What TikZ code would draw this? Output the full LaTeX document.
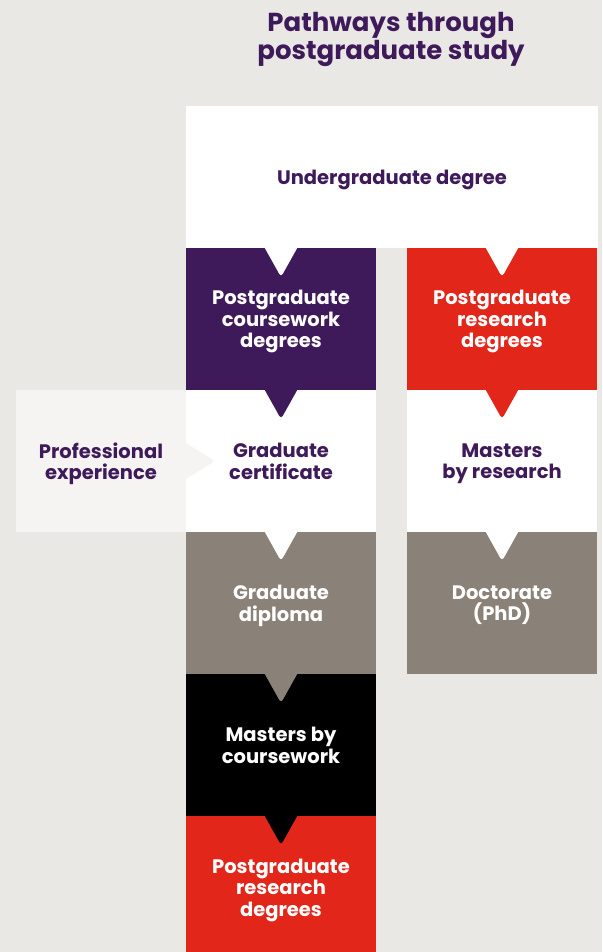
\documentclass[tikz,border=0pt]{standalone}
\usepackage{fontspec}
\setmainfont{Poppins}
\usetikzlibrary{positioning}

\definecolor{pathPurple}{HTML}{3F1A5A}
\definecolor{pathRed}{HTML}{E3261A}
\definecolor{pathGrey}{HTML}{8A8178}
\definecolor{paper}{HTML}{EAE8E4}
\definecolor{proGrey}{HTML}{F5F4F2}

% notch pointing down from the box above into box #2
\newcommand\notchdown[2]{%
  \fill[#1, rounded corners=3.5pt] ([xshift=-19pt, yshift=5pt]#2.north) -- ([yshift=-29pt]#2.north) -- ([xshift=19pt, yshift=5pt]#2.north) -- cycle;}

\begin{document}
\begin{tikzpicture}[x=1pt, y=-1pt,
  box/.style={minimum width=190pt, minimum height=142pt, inner sep=0pt, outer sep=0pt},
  boxtext/.style={align=center, inner sep=0pt, yshift=-3.5pt,
    execute at begin node=\strut, execute at end node=\strut,
    font=\fontsize{19.5}{21.5}\selectfont\bfseries},
  darktext/.style={boxtext, text=white},
  lighttext/.style={boxtext, text=pathPurple}]

\fill[paper] (0, 0) rectangle (602, 952);
\useasboundingbox (0, 0) rectangle (602, 952);

\node[text=pathPurple, align=center, font=\fontsize{26}{26}\selectfont\bfseries] (title) at (391, 39.5) {Pathways through\\postgraduate study};

\node[box, fill=white, minimum width=412pt] (ugrad) at (392, 177) {};
\node[box, fill=pathPurple] (cwork) at (281, 319) {};
\node[box, fill=pathRed] (rsch) at (502, 319) {};
\node[box, fill=proGrey, minimum width=170pt] (prof) at (101, 461) {};
\node[box, fill=white] (gcert) at (281, 461) {};
\node[box, fill=white] (mres) at (502, 461) {};
\node[box, fill=pathGrey] (gdip) at (281, 603) {};
\node[box, fill=pathGrey] (phd) at (502, 603) {};
\node[box, fill=black] (mcw) at (281, 745) {};
\node[box, fill=pathRed] (rsch2) at (281, 887) {};

\notchdown{white}{cwork}
\notchdown{white}{rsch}
\notchdown{pathPurple}{gcert}
\notchdown{pathRed}{mres}
\notchdown{white}{gdip}
\notchdown{white}{phd}
\notchdown{pathGrey}{mcw}
\notchdown{black}{rsch2}

% professional experience feeds into the certificate
\fill[proGrey, rounded corners=3.5pt] ([xshift=-5pt, yshift=21pt]prof.east) -- ([xshift=29pt]prof.east) -- ([xshift=-5pt, yshift=-21pt]prof.east) -- cycle;

\node[lighttext] (ugradtxt) at (ugrad.center) {Undergraduate degree};
\node[darktext] (cworktxt) at (cwork.center) {Postgraduate\\coursework\\degrees};
\node[darktext] (rschtxt) at (rsch.center) {Postgraduate\\research\\degrees};
\node[lighttext] (proftxt) at (prof.center) {Professional\\experience};
\node[lighttext] (gcerttxt) at (gcert.center) {Graduate\\certificate};
\node[lighttext] (mrestxt) at (mres.center) {Masters\\by research};
\node[darktext] (gdiptxt) at (gdip.center) {Graduate\\diploma};
\node[darktext] (phdtxt) at (phd.center) {Doctorate\\(PhD)};
\node[darktext] (mcwtxt) at (mcw.center) {Masters by\\coursework};
\node[darktext] (rsch2txt) at (rsch2.center) {Postgraduate\\research\\degrees};

\end{tikzpicture}
\end{document}
